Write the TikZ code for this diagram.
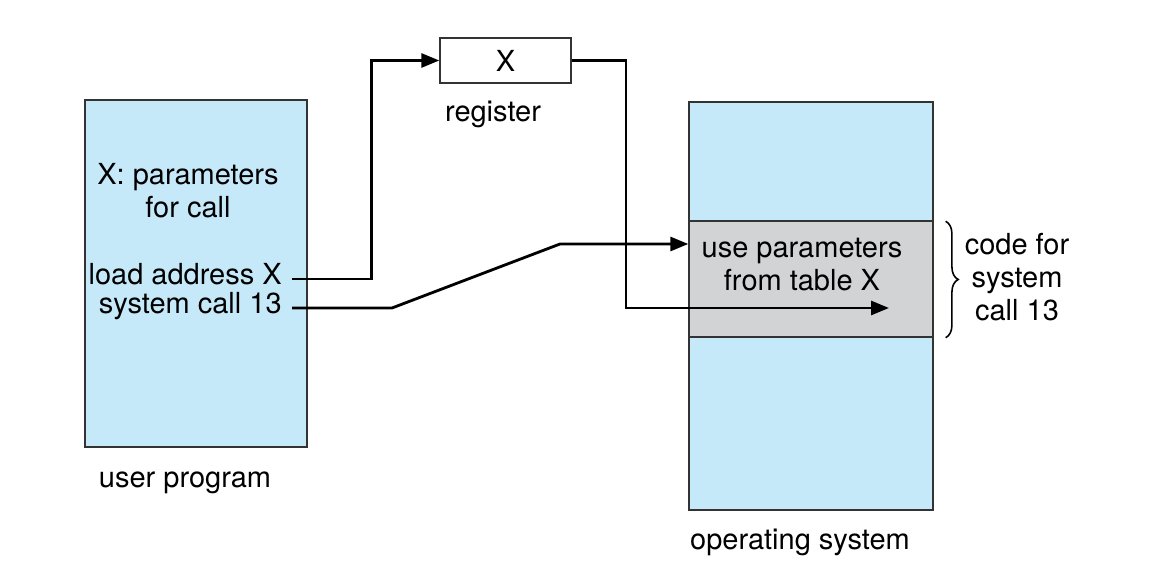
\documentclass[tikz,border=0pt]{standalone}
\usepackage{fontspec}
\setmainfont{TeX Gyre Heros}
\usetikzlibrary{decorations.pathreplacing,calc}
\usetikzlibrary{arrows.meta}
\tikzset{>={Triangle[length=0.36cm,width=0.28cm]}}
\definecolor{membg}{HTML}{C6E9F9}
\definecolor{codebg}{HTML}{D2D3D4}
\definecolor{edge}{HTML}{333333}
\tikzset{
  membox/.style={draw=edge, line width=0.8pt, fill=membg, inner sep=0pt},
  codebox/.style={draw=edge, line width=0.8pt, fill=codebg, inner sep=0pt},
  regbox/.style={draw=edge, line width=0.8pt, fill=white, inner sep=0pt,
    font=\fontsize{16.5}{18.8}\selectfont},
  link/.style={black, line width=1.6pt, ->},
  lbl/.style={font=\fontsize{16.5}{18.8}\selectfont, inner sep=0pt, align=center},
  outlbl/.style={lbl, anchor=east, inner xsep=0.2cm, text height=0.85em, text depth=0.2em},
}

\begin{document}
\begin{tikzpicture}[x=0.02cm,y=-0.02cm]
  \useasboundingbox (0,0) rectangle (1157,580);

  \node[membox, minimum width=4.44cm, minimum height=6.94cm] (user) at (196,273.5) {};
  \node[membox, minimum width=4.88cm, minimum height=8.16cm] (os) at (811,306) {};
  \node[codebox, minimum width=4.88cm, minimum height=2.32cm] (code) at (811,279) {};
  \node[regbox, minimum width=2.62cm, minimum height=0.9cm] (reg) at (505.5,60.5) {X};

  \node[lbl, anchor=base] (params) at (188,218) {X: parameters\\for call};
  \node[outlbl] (loadaddr) at (292,279) {load address X};
  \node[outlbl] (syscall) at (292,308) {system call 13};
  \node[lbl, anchor=base] (userlbl) at (185,488) {user program};
  \node[lbl, anchor=base] (reglbl) at (493,122) {register};
  \node[lbl, anchor=base] (codetxt) at (802,291) {use parameters\\from table X};
  \node[lbl, anchor=base] (bracelbl) at (1017,321) {code for\\system\\call 13};
  \node[lbl, anchor=base] (oslbl) at (800,550) {operating system};

  \coordinate (argend) at (889,308);

  \draw[link] (loadaddr.east) -| ($(reg.west)+(-68,0)$) -- (reg.west);
  \draw[link] (syscall.east) -- (392,308) -- (560,244) -- ($(os.west)+(0,-62)$);
  \draw[link] (reg.east) -| (626,308) -- (argend);

  \draw[black, line width=0.9pt, decorate, decoration={brace, amplitude=0.25cm}]
    ($(code.north east)+(12,1)$) -- ($(code.south east)+(12,0)$);
\end{tikzpicture}
\end{document}
